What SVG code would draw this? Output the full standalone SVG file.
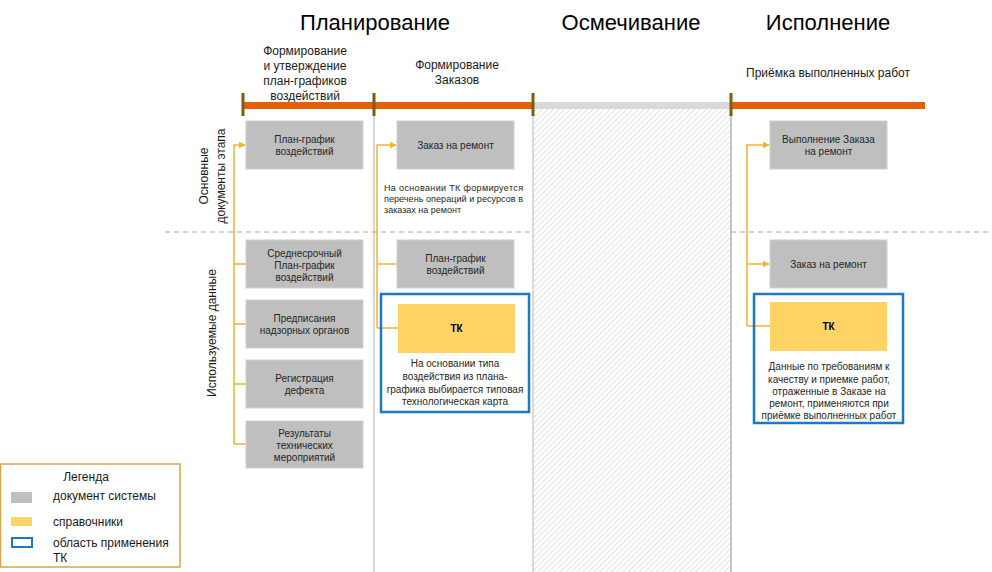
<svg xmlns="http://www.w3.org/2000/svg" width="992" height="572" viewBox="0 0 992 572">
<defs>
<style>
text{font-family:"Liberation Sans",Arial,sans-serif;fill:#262626}
.title{font-size:22px;text-anchor:middle;fill:#000}
.sub{font-size:12px;text-anchor:middle;fill:#1a1a1a}
.bt{font-size:10px;text-anchor:middle}
.note{font-size:9px}
.tk{font-size:10px;font-weight:bold;text-anchor:middle;fill:#000}
.side{font-size:12px;text-anchor:middle;fill:#1a1a1a}
.leg{font-size:12px;fill:#1a1a1a}
.doc{fill:#BFBFBF;stroke:#D0D0D0;stroke-width:1}
.ref{fill:#FFD464}
.area{fill:none;stroke:#1E78C2;stroke-width:2.5}
.conn{fill:none;stroke:#F2B330;stroke-width:1.5}
.vline{stroke:#B0B0B0;stroke-width:1}
.dash{stroke:#A6A6A6;stroke-width:1.2;stroke-dasharray:5 4}
.tick{stroke:#7F5A12;stroke-width:3}
</style>
<pattern id="hatch" width="4" height="4" patternUnits="userSpaceOnUse" patternTransform="rotate(45)">
<rect width="4" height="4" fill="#FFFFFF"/>
<line x1="0" y1="0" x2="0" y2="4" stroke="#CFCFCF" stroke-width="1.2"/>
</pattern>
<marker id="arr" viewBox="0 0 10 10" refX="9" refY="5" markerWidth="7" markerHeight="7" orient="auto" markerUnits="userSpaceOnUse">
<path d="M0,0 L10,5 L0,10 z" fill="#F2B330"/>
</marker>
</defs>
<rect width="992" height="572" fill="#FFFFFF"/>

<g id="titles">
<text class="title" x="375" y="30">Планирование</text>
<text class="title" x="631" y="30">Осмечивание</text>
<text class="title" x="828" y="30">Исполнение</text>
</g>

<g id="subtitles">
<text class="sub" x="305" y="55">Формирование</text>
<text class="sub" x="305" y="70">и утверждение</text>
<text class="sub" x="305" y="85">план-графиков</text>
<text class="sub" x="305" y="100">воздействий</text>
<text class="sub" x="457" y="69">Формирование</text>
<text class="sub" x="457" y="84">Заказов</text>
<text class="sub" x="828" y="77">Приёмка выполненных работ</text>
</g>

<g id="hatched-area">
<rect x="533" y="108" width="198" height="470" fill="url(#hatch)" stroke="#B8B8B8" stroke-width="1"/>
</g>

<g id="grid">
<line class="vline" x1="374" y1="105" x2="374" y2="572"/>
<line class="vline" x1="731" y1="105" x2="731" y2="572"/>
<line class="dash" x1="165" y1="232" x2="533" y2="232"/>
<line class="dash" x1="731" y1="232" x2="992" y2="232"/>
</g>

<g id="timeline">
<rect x="242" y="102" width="291" height="7" fill="#E35F0A"/>
<rect x="533" y="102" width="198" height="7" fill="#D9D9D9"/>
<rect x="731" y="102" width="194" height="7" fill="#E35F0A"/>
<line class="tick" x1="243" y1="93" x2="243" y2="116"/>
<line class="tick" x1="374" y1="93" x2="374" y2="116"/>
<line class="tick" x1="533" y1="93" x2="533" y2="116"/>
<line class="tick" x1="731" y1="93" x2="731" y2="116"/>
</g>

<g id="side-labels">
<text class="side" transform="translate(208,176) rotate(-90)">Основные</text>
<text class="side" transform="translate(225,176) rotate(-90)">документы этапа</text>
<text class="side" transform="translate(216,333) rotate(-90)">Используемые данные</text>
</g>

<g id="connectors">
<path class="conn" d="M234,444 L234,145 L245,145" marker-end="url(#arr)"/>
<path class="conn" d="M234,264 L246,264 M234,324 L246,324 M234,384 L246,384 M234,444 L246,444"/>
<path class="conn" d="M377,328 L377,145 L396,145" marker-end="url(#arr)"/>
<path class="conn" d="M377,264 L397,264 M377,328 L398,328"/>
<path class="conn" d="M747,326 L747,145 L769,145" marker-end="url(#arr)"/>
<path class="conn" d="M747,264 L769,264" marker-end="url(#arr)"/>
<path class="conn" d="M747,326 L770,326"/>
</g>

<g id="n-plan-graph-1">
<rect class="doc" x="246" y="121" width="117" height="48"/>
<text class="bt" x="304.5" y="143">План-график</text>
<text class="bt" x="304.5" y="155">воздействий</text>
</g>
<g id="n-mid-plan">
<rect class="doc" x="246" y="240" width="117" height="48"/>
<text class="bt" x="304.5" y="257">Среднесрочный</text>
<text class="bt" x="304.5" y="269">План-график</text>
<text class="bt" x="304.5" y="281">воздействий</text>
</g>
<g id="n-orders">
<rect class="doc" x="246" y="300" width="117" height="48"/>
<text class="bt" x="304.5" y="322">Предписания</text>
<text class="bt" x="304.5" y="334">надзорных  органов</text>
</g>
<g id="n-defect">
<rect class="doc" x="246" y="360" width="117" height="48"/>
<text class="bt" x="304.5" y="382">Регистрация</text>
<text class="bt" x="304.5" y="394">дефекта</text>
</g>
<g id="n-results">
<rect class="doc" x="246" y="421" width="117" height="47"/>
<text class="bt" x="304.5" y="437">Результаты</text>
<text class="bt" x="304.5" y="449">технических</text>
<text class="bt" x="304.5" y="461">мероприятий</text>
</g>

<g id="n-repair-order">
<rect class="doc" x="397" y="121" width="117" height="48"/>
<text class="bt" x="455.5" y="149">Заказ  на  ремонт</text>
</g>
<g id="n-note-1">
<text class="note" x="384" y="191" textLength="139" lengthAdjust="spacing">На  основании  ТК  формируется</text>
<text class="note" x="384" y="202" textLength="139" lengthAdjust="spacing">перечень операций и ресурсов в</text>
<text class="note" x="384" y="213">заказах на ремонт</text>
</g>
<g id="n-plan-graph-2">
<rect class="doc" x="397" y="240" width="117" height="48"/>
<text class="bt" x="455.5" y="262">План-график</text>
<text class="bt" x="455.5" y="274">воздействий</text>
</g>
<g id="n-tk-area-1">
<rect class="area" x="381" y="294" width="148" height="118"/>
<rect class="ref" x="398" y="304" width="117" height="49"/>
<text class="tk" x="456.5" y="332">ТК</text>
<text class="bt" x="455" y="367">На основании типа</text>
<text class="bt" x="455" y="380">воздействия из плана-</text>
<text class="bt" x="455" y="393">графика выбирается типовая</text>
<text class="bt" x="455" y="405">технологическая карта</text>
</g>

<g id="n-exec-order">
<rect class="doc" x="770" y="121" width="117" height="48"/>
<text class="bt" x="828.5" y="143">Выполнение  Заказа</text>
<text class="bt" x="828.5" y="155">на ремонт</text>
</g>
<g id="n-repair-order-2">
<rect class="doc" x="770" y="240" width="117" height="48"/>
<text class="bt" x="828.5" y="268">Заказ  на  ремонт</text>
</g>
<g id="n-tk-area-2">
<rect class="area" x="754" y="294" width="149" height="129"/>
<rect class="ref" x="770" y="302" width="117" height="49"/>
<text class="tk" x="828.5" y="330">ТК</text>
<text class="bt" x="829" y="370">Данные по требованиям  к</text>
<text class="bt" x="829" y="383">качеству и приемке  работ,</text>
<text class="bt" x="829" y="395">отраженные  в Заказе на</text>
<text class="bt" x="829" y="407">ремонт,  применяются при</text>
<text class="bt" x="829" y="419">приёмке  выполненных  работ</text>
</g>

<g id="legend">
<rect x="0.5" y="464" width="179.5" height="103" fill="#FFFFFF" stroke="#D4A645" stroke-width="1.5"/>
<text class="leg" x="86" y="481" text-anchor="middle">Легенда</text>
<rect x="11" y="492" width="21" height="11" fill="#BFBFBF"/>
<text class="leg" x="53" y="500">документ системы</text>
<rect x="11" y="517" width="21" height="9" fill="#FFD464"/>
<text class="leg" x="53" y="526">справочники</text>
<rect x="12" y="538" width="20" height="9" fill="none" stroke="#1E78C2" stroke-width="2"/>
<text class="leg" x="53" y="547">область применения</text>
<text class="leg" x="53" y="562">ТК</text>
</g>
</svg>
